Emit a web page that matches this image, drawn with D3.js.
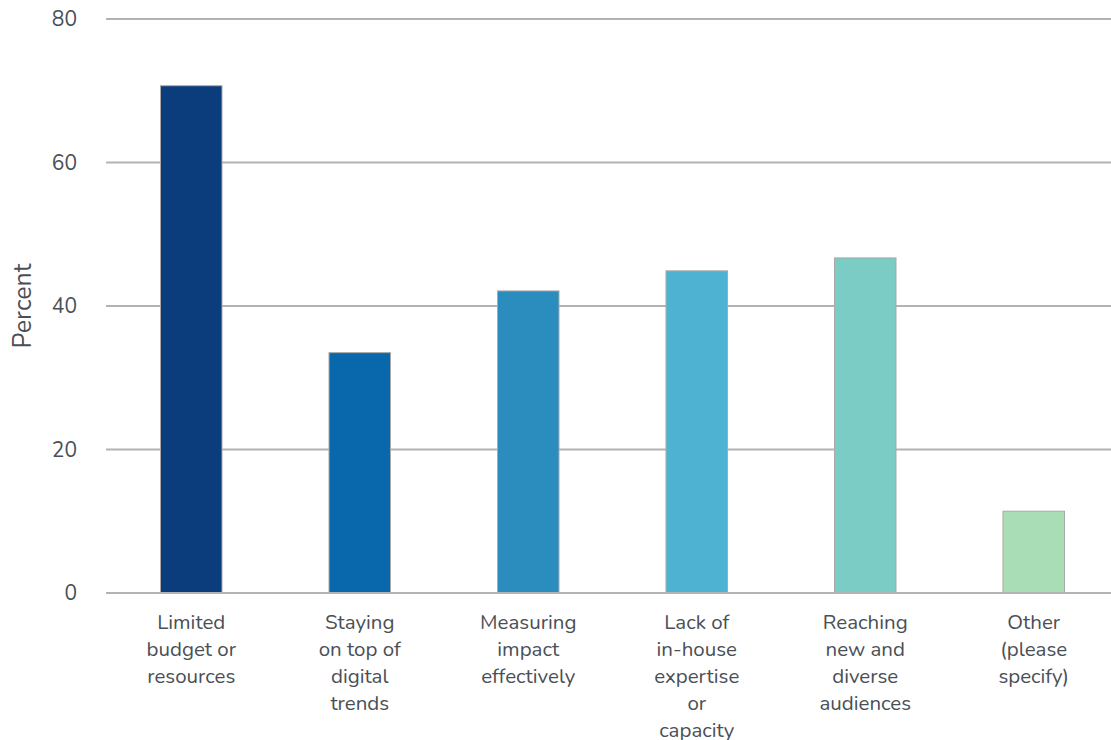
<!DOCTYPE html>
<html>
<head>
<meta charset="utf-8">
<script src="https://cdn.jsdelivr.net/npm/d3@7"></script>
<style>
  html, body { margin: 0; padding: 0; background: #fff; }
  svg { display: block; font-family: "Nunito", "Lato", "Noto Sans", sans-serif; }
</style>
</head>
<body>
<svg id="chart" width="1111" height="740"></svg>
<script>
// Challenges reported, share of respondents (%)
const categories = [
  ["Limited", "budget or", "resources"],
  ["Staying", "on top of", "digital", "trends"],
  ["Measuring", "impact", "effectively"],
  ["Lack of", "in-house", "expertise", "or", "capacity"],
  ["Reaching", "new and", "diverse", "audiences"],
  ["Other", "(please", "specify)"]
];
const values = [70.7, 33.5, 42.1, 44.9, 46.7, 11.4];
const barColors = ["#0b3d7c", "#0868ab", "#2b8cbe", "#4eb3d3", "#7bccc4", "#a8ddb5"];
const yTicks = [0, 20, 40, 60, 80];
const yLabel = "Percent";

const svg = d3.select("#chart");
const plot = { left: 106, right: 1111, top: 19, bottom: 593 };

const keys = categories.map((c, i) => i);
const x = d3.scaleBand()
  .domain(keys)
  .range([107, 1118])
  .paddingInner(0.635)
  .paddingOuter(0.3175);

const y = d3.scaleLinear().domain([0, 80]).range([plot.bottom, plot.top]);

// horizontal grid
svg.append("g")
  .selectAll("line")
  .data(yTicks)
  .join("line")
  .attr("x1", plot.left)
  .attr("x2", plot.right)
  .attr("y1", d => y(d))
  .attr("y2", d => y(d))
  .attr("stroke", "#b3b3b3")
  .attr("stroke-width", 2);

// y tick labels
svg.append("g")
  .selectAll("text")
  .data(yTicks)
  .join("text")
  .attr("x", 77)
  .attr("y", d => y(d))
  .attr("dy", "0.35em")
  .attr("text-anchor", "end")
  .attr("font-size", 21)
  .attr("fill", "#4a4f56")
  .text(d => d);

// y axis title
svg.append("text")
  .attr("transform", `translate(31, 306) rotate(-90)`)
  .attr("text-anchor", "middle")
  .attr("font-size", 25)
  .attr("fill", "#4a4f56")
  .text(yLabel);

// bars
svg.append("g")
  .selectAll("rect")
  .data(values)
  .join("rect")
  .attr("x", (d, i) => x(i))
  .attr("width", x.bandwidth())
  .attr("y", d => y(d))
  .attr("height", d => y(0) - y(d))
  .attr("fill", (d, i) => barColors[i])
  .attr("stroke", "#a9a9a9")
  .attr("stroke-width", 1);

// baseline over bars
svg.append("line")
  .attr("x1", plot.left).attr("x2", plot.right)
  .attr("y1", y(0)).attr("y2", y(0))
  .attr("stroke", "#b3b3b3").attr("stroke-width", 2);

// category labels
const lab = svg.append("g")
  .selectAll("text")
  .data(categories)
  .join("text")
  .attr("x", (d, i) => x(i) + x.bandwidth() / 2)
  .attr("y", 629)
  .attr("text-anchor", "middle")
  .attr("font-size", 20.5)
  .attr("fill", "#4a4f56");

lab.selectAll("tspan")
  .data(d => d)
  .join("tspan")
  .attr("x", function () { return d3.select(this.parentNode).attr("x"); })
  .attr("dy", (d, j) => j === 0 ? 0 : 27)
  .text(d => d);
</script>
</body>
</html>
